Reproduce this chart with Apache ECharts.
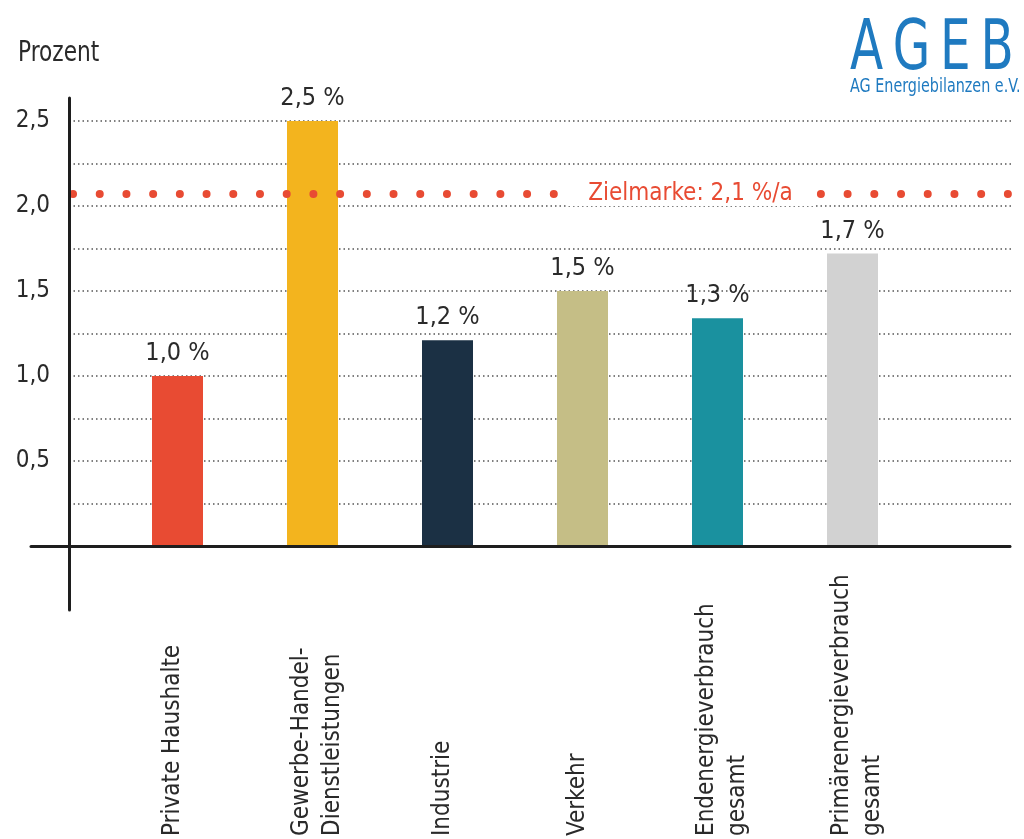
<!DOCTYPE html>
<html><head><meta charset="utf-8">
<script src="https://cdn.jsdelivr.net/npm/echarts@6/dist/echarts.min.js"></script>
<style>html,body{margin:0;padding:0;background:#fff}#c{width:1024px;height:839px}</style>
</head><body><div id="c"></div>
<script>
const categories = ['Private Haushalte', 'Gewerbe-Handel-\nDienstleistungen', 'Industrie', 'Verkehr', 'Endenergieverbrauch\ngesamt', 'Primärenergieverbrauch\ngesamt'];
const values = [1.0, 2.5, 1.21, 1.5, 1.34, 1.72];
const barColors = ['#e84b33', '#f3b41e', '#1b3044', '#c5be86', '#1a919f', '#d2d2d2'];
const yTickLabels = [0.5, 1.0, 1.5, 2.0, 2.5];
const targetValue = 2.07;
const targetText = 'Zielmarke: 2,1 %/a';

const FONT = '"DejaVu Sans Condensed", "Liberation Sans Narrow", sans-serif';
const TXT = '#2a2a2a';
const BLUE = '#1f7ac0';
const RED = '#e84b33';
const fmt = v => v.toFixed(1).replace('.', ',');

const chart = echarts.init(document.getElementById('c'), null, {renderer: 'canvas'});
chart.setOption({
  animation: false,
  backgroundColor: '#fff',
  textStyle: {fontFamily: FONT},
  grid: [
    {left: 69, right: 12, top: 121, height: 425},
    {left: 31, right: 14, top: 98, bottom: 229},
    {left: 110, width: 810, top: 121, height: 425}
  ],
  xAxis: [
    {gridIndex: 0, type: 'value', min: 0, max: 1, show: false},
    {gridIndex: 1, type: 'value', min: -38, max: 941, z: 10,
      axisLine: {show: true, onZero: true, lineStyle: {color: '#1e1e1e', width: 3}},
      axisTick: {show: false}, axisLabel: {show: false}, splitLine: {show: false}},
    {gridIndex: 2, type: 'category', data: categories,
      axisLine: {show: false}, axisTick: {show: false},
      axisLabel: {rotate: 90, align: 'left', verticalAlign: 'middle', margin: 290, interval: 0,
        fontSize: 24, lineHeight: 31, color: TXT, fontFamily: FONT, padding: [10, 0, 0, 0],
        formatter: v => v.indexOf('\n') >= 0 ? v : v + '\n{s| }',
        rich: {s: {lineHeight: 20, fontSize: 10}}}}
  ],
  yAxis: [
    {gridIndex: 0, type: 'value', min: 0, max: 2.5, interval: 0.25,
      axisLine: {show: false}, axisTick: {show: false},
      splitLine: {show: true, lineStyle: {color: '#555', width: 1.5, type: [1.5, 3]}},
      axisLabel: {margin: 19, fontSize: 24, color: TXT, fontFamily: FONT, padding: [0, 0, 9, 0],
        formatter: v => yTickLabels.some(t => Math.abs(t - v) < 1e-9) ? fmt(v) : ''}},
    {gridIndex: 1, type: 'value', min: -0.375, max: 2.626, z: 10,
      axisLine: {show: true, onZero: true, lineStyle: {color: '#1e1e1e', width: 3}},
      axisTick: {show: false}, axisLabel: {show: false}, splitLine: {show: false}},
    {gridIndex: 2, type: 'value', min: 0, max: 2.5, show: false}
  ],
  graphic: [
    {type: 'text', x: 18, y: 54, scaleX: 0.86, style: {text: 'Prozent', font: '28px ' + FONT, fill: TXT, verticalAlign: 'middle'}},
    {type: 'text', x: 850, y: 51, scaleX: 0.77, style: {text: 'A\u2009G\u2009E\u2009B', font: '70px ' + FONT, fill: BLUE, verticalAlign: 'middle'}},
    {type: 'text', x: 850, y: 87, scaleX: 0.84, style: {text: 'AG Energiebilanzen e.V.', font: '19px ' + FONT, fill: BLUE, verticalAlign: 'middle'}}
  ],
  series: [
    {type: 'bar', xAxisIndex: 2, yAxisIndex: 2, barWidth: 51,
      data: values.map((v, i) => ({value: v, itemStyle: {color: barColors[i]}})),
      label: {show: true, position: 'top', distance: 10, fontSize: 25, color: TXT, fontFamily: FONT,
        formatter: p => fmt(p.value) + ' %'}},
    {type: 'line', xAxisIndex: 0, yAxisIndex: 0, data: [], z: 5, silent: true,
      markLine: {symbol: 'none', silent: true, animation: false,
        lineStyle: {color: RED, width: 8, type: [0.01, 26.7], dashOffset: 22.7, cap: 'round'},
        label: {show: true, position: 'middle', distance: 0, verticalAlign: 'middle',
          formatter: '{gap|}{t|' + targetText + '}',
          rich: {gap: {width: 300, lineHeight: 30}, t: {fontSize: 24, lineHeight: 30, color: RED, fontFamily: FONT, backgroundColor: '#fff', padding: [0, 22]}}},
        data: [{yAxis: targetValue}]}}
  ]
});
</script></body></html>
